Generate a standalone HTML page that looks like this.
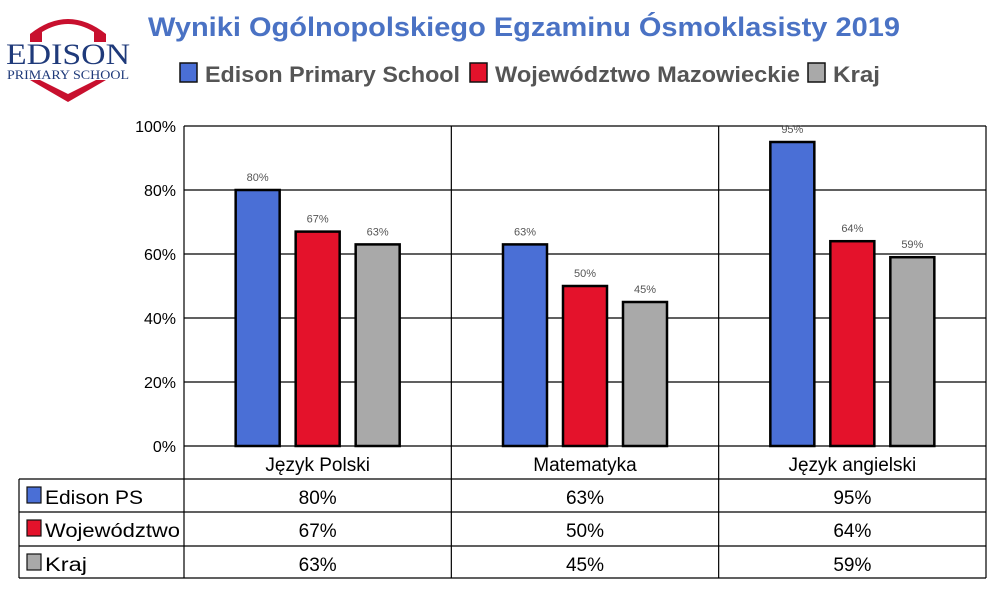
<!DOCTYPE html>
<html><head><meta charset="utf-8"><style>
body{margin:0;background:#fff;width:1000px;height:590px;overflow:hidden;font-family:"Liberation Sans","DejaVu Sans",sans-serif}
</style></head><body>
<svg id="c" width="1000" height="590" xmlns="http://www.w3.org/2000/svg">
<g>
<path d="M30,34 Q68,4 106,34 L106,42 L94,42 L94,32 Q68,16 42,32 L42,42 L30,42 Z" fill="#c8102e"/>
<path d="M30,80 L40,80 L68,94 L96,80 L106,80 L68,102 Z" fill="#c8102e"/>
<text x="68" y="64" text-anchor="middle" font-family="Liberation Serif,serif" font-size="30" fill="#1f3a7a" textLength="124" lengthAdjust="spacingAndGlyphs">EDISON</text>
<text x="68" y="79" text-anchor="middle" font-family="Liberation Serif,serif" font-size="13" fill="#1f3a7a" textLength="122" lengthAdjust="spacingAndGlyphs">PRIMARY SCHOOL</text>
</g>
<text x="148" y="36" font-size="27" font-weight="bold" fill="#4a72c4" textLength="752" lengthAdjust="spacingAndGlyphs">Wyniki Ogólnopolskiego Egzaminu Ósmoklasisty 2019</text>
<g id="legend"></g>
<g id="plot"></g>
</svg>
<script>
const categories=["Język Polski","Matematyka","Język angielski"];
const seriesNames=["Edison Primary School","Województwo Mazowieckie","Kraj"];
const tableNames=["Edison PS","Województwo","Kraj"];
const edison=[80,63,95];
const woj=[67,50,64];
const kraj=[63,45,59];
const yTicks=[0,20,40,60,80,100];
const series=[edison,woj,kraj];
const colors=["#4a6fd6","#e4122b","#a9a9a9"];
const NS="http://www.w3.org/2000/svg";
const plot=document.getElementById('plot');
const L=184,R=986,T=126,B=446;
const band=(R-L)/categories.length;
const y=v=>B-(v/100)*(B-T);
const xc=i=>L+band*i+band/2;
function mk(tag,at,parent){const e=document.createElementNS(NS,tag);for(const k in at)e.setAttribute(k,at[k]);(parent||plot).appendChild(e);return e;}
yTicks.forEach(t=>{
 const g=mk('line',{x1:L,x2:R,y1:y(t),y2:y(t),stroke:'#000','stroke-width':1.2});
 
 
 const tx=mk('text',{x:L-8,y:y(t)+6,'text-anchor':'end','font-size':16,fill:'#000'});
 tx.textContent=t+'%';
 
 
});
for(let i=0;i<=categories.length;i++){
 const x=L+band*i;
 const v=mk('line',{x1:x,x2:x,y1:T,y2:578,stroke:'#000','stroke-width':1.2});
 
 
}
const rows=[479,512,546,578];
rows.forEach(ry=>{
 const ln=mk('line',{x1:19,x2:R,y1:ry,y2:ry,stroke:'#000','stroke-width':1.2});
 
 
});
const lv=mk('line',{x1:19,x2:19,y1:479,y2:578,stroke:'#000','stroke-width':1.2});


categories.forEach((c,i)=>{
 series.forEach((s,j)=>{
  const cx=xc(i)+(j-1)*60;
  const r=mk('rect',{x:cx-22,y:y(s[i]),width:44,height:B-y(s[i]),fill:colors[j],stroke:'#000','stroke-width':2.5});
  
  
  const lb=mk('text',{x:cx,y:y(s[i])-9,'text-anchor':'middle','font-size':11,fill:'#555'});
  lb.textContent=s[i]+'%';
  
  
  const tv=mk('text',{x:xc(i),y:rows[j]+25,'text-anchor':'middle','font-size':19,fill:'#000'});
  tv.textContent=s[i]+'%';
  
  
 });
 const cl=mk('text',{x:xc(i),y:471,'text-anchor':'middle','font-size':19,fill:'#000'});
 cl.textContent=c;
 
 
});
const thLen=[98,135,42];
tableNames.forEach((n,j)=>{
 const sq=mk('rect',{x:27,y:rows[j]+8,width:14,height:16,fill:colors[j],stroke:'#111','stroke-width':1.2});
 
 
 const t=mk('text',{x:45,y:rows[j]+25,'font-size':19,fill:'#000',textLength:thLen[j],lengthAdjust:'spacingAndGlyphs'});
 t.textContent=n;
 
 
});
const leg=document.getElementById('legend');
const lx=[180,470,808];
const lLen=[255,305,47];
seriesNames.forEach((n,j)=>{
 const sq=mk('rect',{x:lx[j],y:63,width:17,height:19,fill:colors[j],stroke:'#111','stroke-width':1.5},leg);
 
 
 const t=mk('text',{x:lx[j]+25,y:82,'font-size':22,'font-weight':'bold',fill:'#555',textLength:lLen[j],lengthAdjust:'spacingAndGlyphs'},leg);
 t.textContent=n;
 
 
});
</script>
</body></html>
